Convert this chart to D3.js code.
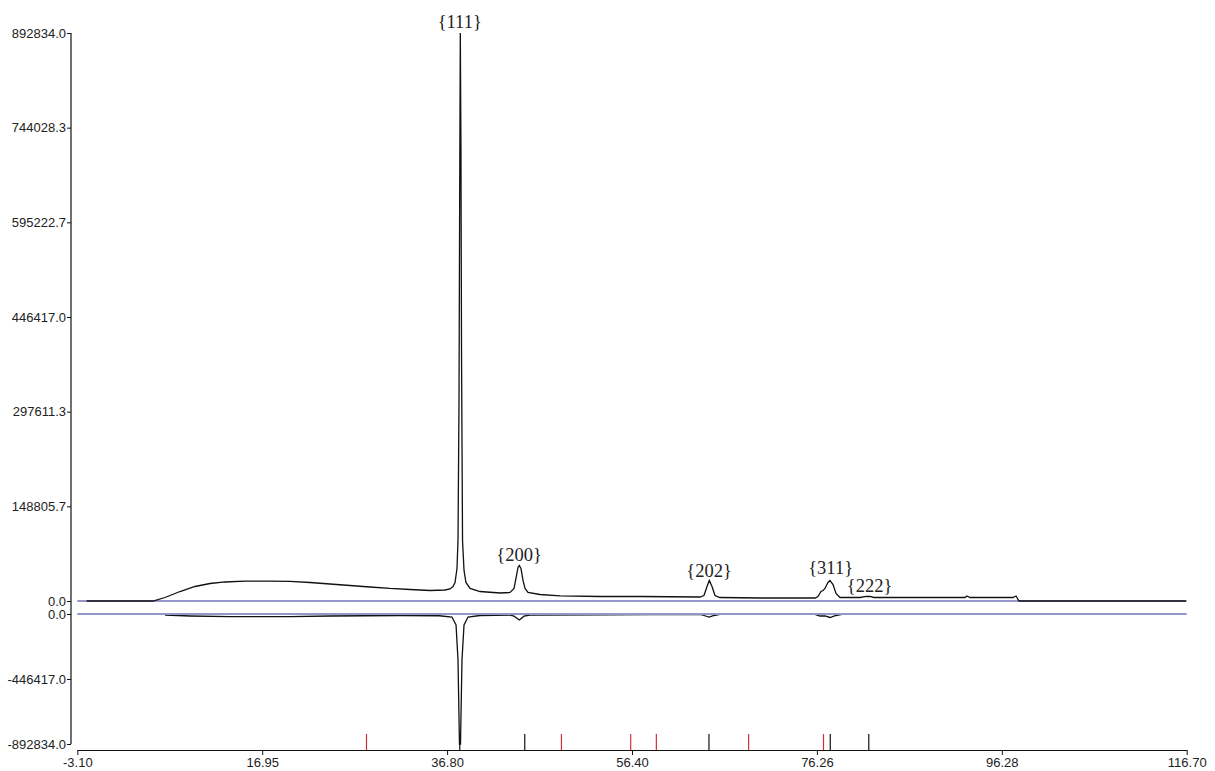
<!DOCTYPE html>
<html>
<head>
<meta charset="utf-8">
<script src="https://cdn.jsdelivr.net/npm/d3@7"></script>
<style>
    body { margin: 0; background: #fff; }
    svg { display: block; }
</style>
</head>
<body>
<svg id="chart" width="1215" height="771"></svg>
<script>
const profAngle = [
    -2.09, 5.07, 6.37, 7.99, 9.61, 11.23, 12.85, 15.01, 17.71, 19.87,
    22.03, 24.19, 26.35, 28.51, 30.67, 32.83, 34.99, 36.61, 37.15, 37.47,
    37.69, 37.90, 38.01, 38.12, 38.19, 38.26, 38.33, 38.39, 38.50, 38.66,
    38.87, 39.31, 40.39, 42.55, 43.63, 44.06, 44.27, 44.49, 44.63, 44.81,
    45.03, 45.25, 45.57, 46.87, 49.03, 53.34, 57.66, 64.14, 64.57, 64.90,
    65.15, 65.44, 65.76, 66.30, 70.62, 76.56, 76.88, 77.21, 77.43, 77.64,
    77.96, 78.18, 78.51, 78.83, 79.26, 81.42, 82.07, 82.50, 82.93, 92.76,
    92.97, 93.30, 97.94, 98.27, 98.59, 116.62,
];
const profCounts = [
    0, 0, 5500, 14900, 22800, 27500, 29900, 31150, 31150, 30700,
    29100, 26750, 24400, 22000, 19700, 18100, 16500, 17300, 18900, 22800,
    29100, 51100, 95200, 315400, 630100, 892834, 708800, 394100, 95200, 48000,
    29100, 19700, 14900, 12600, 13400, 19700, 35400, 52700, 55850, 51100,
    32250, 19700, 13400, 10200, 8200, 7100, 7100, 6300, 8650, 22800,
    32250, 22800, 8650, 5500, 4700, 4700, 7100, 14900, 16500, 19700,
    29100, 32250, 25950, 11800, 5500, 5500, 7100, 7100, 5500, 5500,
    7850, 5500, 5500, 7850, 0, 0,
];

// difference curve (obs - calc)
const diffAngle = [
    6.37, 9.08, 13.40, 19.87, 24.19, 31.74, 36.00, 37.36, 37.80, 38.01,
    38.17, 38.28, 38.44, 38.66, 39.09, 40.39, 43.63, 44.06, 44.63, 45.14,
    45.79, 53.34, 64.14, 64.57, 65.12, 65.66, 66.30, 76.56, 77.10, 77.64,
    78.18, 78.83, 79.48, 116.62,
];
const diffCounts = [
    -6900, -13700, -18500, -18500, -13700, -10300, -12000, -20600, -75500, -316000,
    -892834, -892834, -316000, -75500, -20600, -10300, -8000, -15000, -41200, -15000,
    -6900, -5000, -2000, -10300, -20600, -10300, -2000, -2000, -13700, -13700,
    -24000, -10300, -2000, 0,
];

// reflection markers
const phaseBlack = [38.20, 45.22, 65.11, 78.21, 82.37];
const phaseRed = [28.13, 49.18, 56.66, 59.43, 69.39, 77.48];

// peak labels
const hklText = ['{111}', '{200}', '{202}', '{311}', '{222}'];
const hklAngle = [38.20, 44.60, 65.12, 78.25, 82.45];
const hklCounts = [892834, 55850, 32250, 32250, 7100];

// axes
const xLabels = ['-3.10', '16.95', '36.80', '56.40', '76.26', '96.28', '116.70'];
const topTicks = [0.0, 148805.7, 297611.3, 446417.0, 595222.7, 744028.3, 892834.0];
const botTicks = [0.0, -446417.0, -892834.0];

const svg = d3.select('#chart');

const x = d3.scaleLinear().domain([-3.1, 116.7]).range([77.3, 1186.7]);
const yTop = d3.scaleLinear().domain([0, 892834]).range([601, 33]);
const yBot = d3.scaleLinear().domain([-892834, 0]).range([744, 614]);

const axisX = 71;
const axisFont = '"Liberation Sans", Arial, sans-serif';
const fmt = d => d3.format('.1f')(d).replace('\u2212', '-');

const profLine = d3.line()
    .x(d => x(d[0]))
    .y(d => yTop(d[1]));
const diffLine = d3.line()
    .x(d => x(d[0]))
    .y(d => yBot(d[1]));

// difference curve sits under the zero line
svg.append('path')
    .attr('d', diffLine(d3.zip(diffAngle, diffCounts)))
    .attr('fill', 'none')
    .attr('stroke', '#111')
    .attr('stroke-width', 1.3);

// zero lines
svg.append('g')
    .attr('stroke', '#9595cc')
    .attr('stroke-width', 2.2)
    .selectAll('line')
    .data([yTop(0), yBot(0)])
    .join('line')
    .attr('x1', x(-3.1))
    .attr('x2', x(116.7))
    .attr('y1', d => d)
    .attr('y2', d => d);

svg.append('path')
    .attr('d', profLine(d3.zip(profAngle, profCounts)))
    .attr('fill', 'none')
    .attr('stroke', '#111')
    .attr('stroke-width', 1.3);

// reflection ticks
const markTop = 734;
const markBottom = 750;
svg.append('g')
    .selectAll('line')
    .data(phaseRed.map(v => ({ v, c: '#d03030' }))
        .concat(phaseBlack.map(v => ({ v, c: '#111' }))))
    .join('line')
    .attr('x1', d => x(d.v))
    .attr('x2', d => x(d.v))
    .attr('y1', markTop)
    .attr('y2', markBottom)
    .attr('stroke', d => d.c)
    .attr('stroke-width', 1.2);

// y axes (single spine through both panels)
const gTop = svg.append('g')
    .attr('transform', `translate(${axisX},0)`)
    .call(d3.axisLeft(yTop).tickValues(topTicks).tickSize(4).tickSizeOuter(0)
        .tickFormat(fmt));
const gBot = svg.append('g')
    .attr('transform', `translate(${axisX},0)`)
    .call(d3.axisLeft(yBot).tickValues(botTicks).tickSize(4).tickSizeOuter(0)
        .tickFormat(fmt));

[gTop, gBot].forEach((g) => {
    g.select('.domain').remove();
    g.selectAll('text')
        .attr('x', -5)
        .style('font', `13px ${axisFont}`)
        .attr('fill', '#222');
    g.selectAll('.tick line').attr('stroke', '#111');
});

svg.append('line')
    .attr('x1', axisX)
    .attr('x2', axisX)
    .attr('y1', yTop(892834))
    .attr('y2', yBot(-892834))
    .attr('stroke', '#111')
    .attr('stroke-width', 1.2);

// x axis: ticks are evenly spaced, labels as printed by the program
const xStep = (116.7 + 3.1) / 6;
const xTickPos = xLabels.map((l, i) => -3.1 + i * xStep);
const gX = svg.append('g')
    .attr('transform', 'translate(0,750)')
    .call(d3.axisBottom(x).tickValues(xTickPos).tickSize(5).tickSizeOuter(0)
        .tickFormat((d, i) => xLabels[i]));
gX.select('.domain').attr('stroke', '#111').attr('stroke-width', 1.2);
gX.selectAll('.tick line').attr('stroke', '#111');
gX.selectAll('text')
    .attr('y', 8)
    .style('font', `13px ${axisFont}`)
    .attr('fill', '#222');

// hkl labels
const labelLift = [5, 4, 3, 6, 4];
svg.append('g')
    .style('font', '18.5px "Liberation Serif", "Times New Roman", serif')
    .attr('fill', '#222')
    .attr('text-anchor', 'middle')
    .selectAll('text')
    .data(hklText)
    .join('text')
    .attr('x', (d, i) => x(hklAngle[i]))
    .attr('y', (d, i) => yTop(hklCounts[i]) - labelLift[i])
    .text(d => d);
</script>
</body>
</html>
